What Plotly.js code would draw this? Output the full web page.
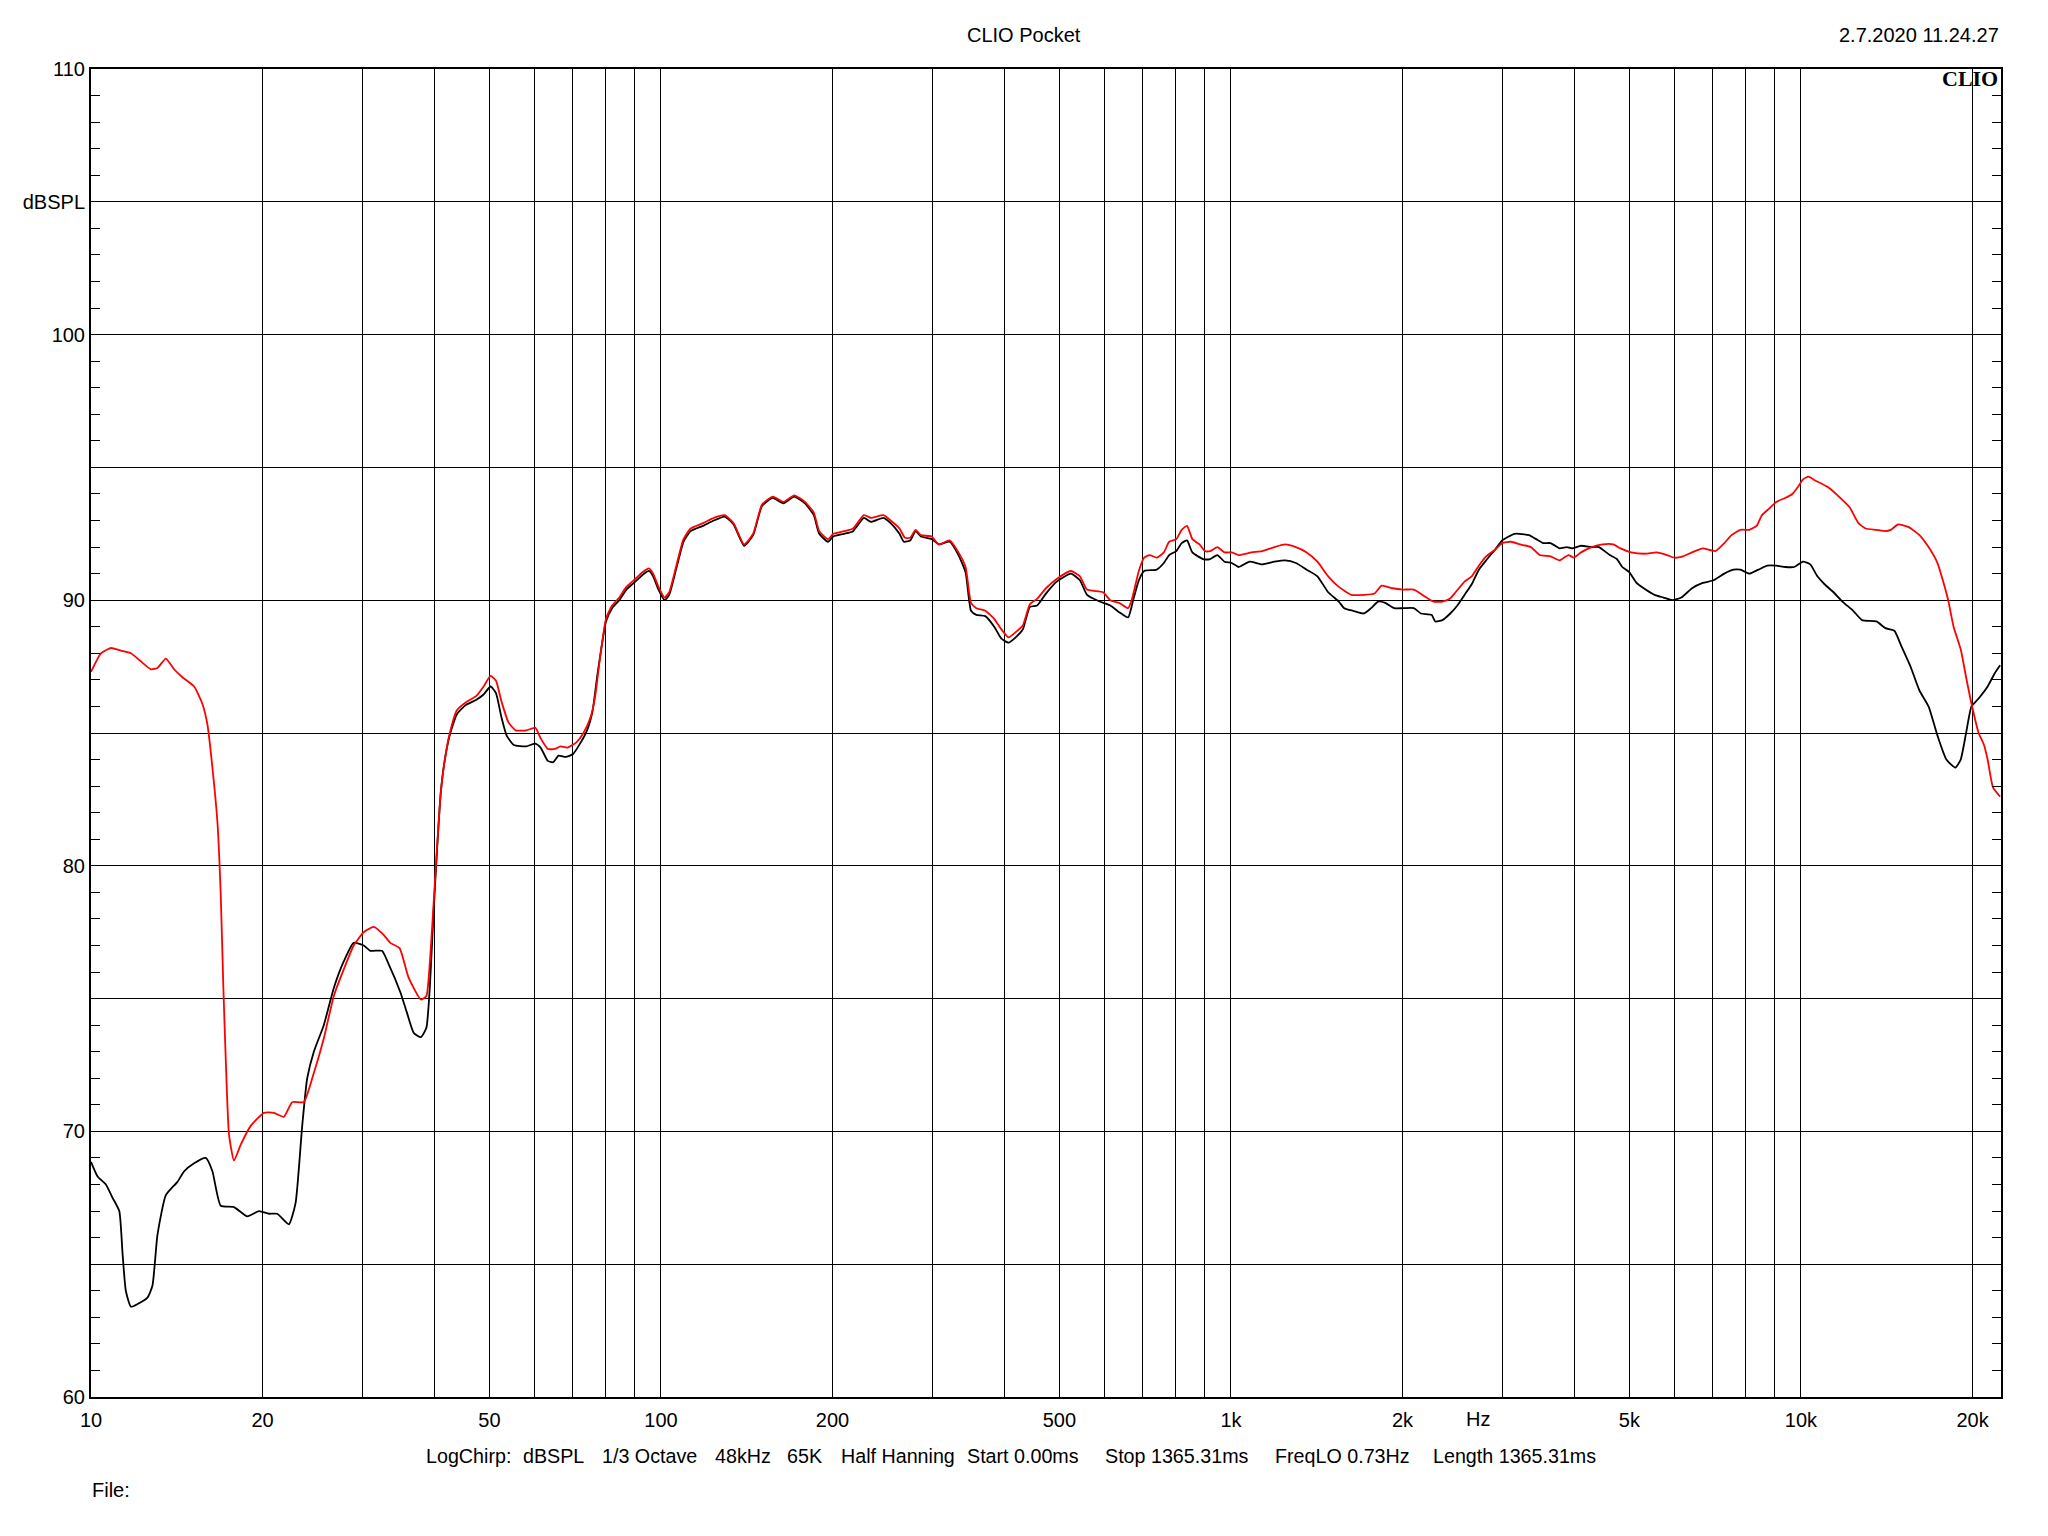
<!DOCTYPE html>
<html>
<head>
<meta charset="utf-8">
<script src="https://cdn.plot.ly/plotly-3.0.1.min.js"></script>
<style>
html,body{margin:0;padding:0;background:#fff;}
#chart{width:2048px;height:1536px;}
</style>
</head>
<body>
<div id="chart"></div>
<script>
// ---- data ----
const freqRed = [10,10.41,10.84,11.28,11.75,12.23,12.74,13.08,13.53,13.99,14.47,15.17,15.68,16.01,16.33,16.67,16.89,17.07,17.23,17.46,17.82,18.31,19.05,20.11,20.94,21.8,22.54,23.62,24.6,25.61,26.67,27.76,28.9,30.09,31.33,32.62,33.5,
34.78,36.06,37.93,38.76,39.32,39.89,40.47,41.06,41.66,42.57,43.82,45.43,47.44,48.83,50.25,51.35,52.48,54.01,55.59,58.05,60.18,61.5,63.31,65.16,66.59,68.54,71.06,73.11,75.26,76.68,78.03,80.09,82.08,84.49,86.96,90.15,92.78,95.21,96.87,99,101.45,103.37,106.4,109.52,112.73,118.56,123.8,129.3,134.1,139.9,145.1,150.4,157.1,164,171.3,178.9,185.4,189.5,196.4,200.6,209.6,217.3,227,233.6,245.7,252.9,262.1,267.9,273.7,279.7,285.8,298.5,307.3,320.9,332.6,
342.3,349.9,357.5,370.7,384.3,395.6,407.1,419.1,431.3,443.9,456.9,473.6,494.6,524,543.3,559.2,596.7,614.1,636.7,660,669.6,689.2,704.3,719.7,740.8,762.5,779.1,801.9,819.5,837.4,855.7,880.8,900.1,919.7,946.6,974.3,1003,1032,1086,1134,1192,1245,1300,1358,1418,1481,1546,1627,1711,1786,1838,1920,2005,2094,2185,2266,2349,2420,
2478,2569,2645,2722,2803,2906,2991,3101,3215,3358,3482,3637,3771,3910,3995,4113,4296,4487,4686,4824,5038,5338,5575,5821,5992,6213,6440,6727,7077,7338,7554,7832,8120,8359,8542,8794,9051,9384,9659,9870,10087,10309,10611,10844,11163,11657,12172,12617,12989,13566,14066,14377,14799,15458,16140,16745,17360,17740,18128,18527,19068,19488,19917,20501,20952,21258,21724,22362];
const splRed = [87.3,88.0,88.2,88.1,88.0,87.7,87.4,87.45,87.8,87.4,87.1,86.75,86.1,85.3,83.7,81.6,78.9,75.4,72.8,69.9,68.9,69.5,70.2,70.7,70.7,70.55,71.1,71.1,72.2,73.5,75.1,76.1,77.0,77.5,77.7,77.4,77.1,
76.9,75.8,74.96,75.1,76.4,78.5,80.7,82.7,83.85,84.96,85.85,86.15,86.4,86.75,87.15,86.97,86.2,85.4,85.1,85.1,85.2,84.8,84.4,84.4,84.5,84.45,84.65,85.0,85.6,86.4,87.7,89.3,89.8,90.1,90.5,90.8,91.05,91.2,91.0,90.5,90.1,90.3,91.3,92.3,92.7,92.9,93.1,93.2,92.9,92.1,92.5,93.6,93.9,93.7,93.95,93.7,93.3,92.6,92.3,92.5,92.6,92.7,93.2,93.1,93.2,93.0,92.7,92.35,92.35,92.65,92.45,92.4,92.1,92.25,91.8,
91.25,89.9,89.7,89.6,89.3,88.9,88.6,88.8,89.05,89.85,90.05,90.45,90.8,91.1,90.9,90.4,90.3,90.0,89.9,89.7,90.0,91.1,91.6,91.7,91.6,91.8,92.2,92.3,92.65,92.8,92.3,92.1,91.85,91.85,92.0,91.8,91.8,91.7,91.8,91.85,92.0,92.1,92.0,91.8,91.45,90.9,90.5,90.2,90.2,90.25,90.55,90.45,90.4,90.4,90.15,89.95,89.95,90.05,
90.3,90.7,90.9,91.3,91.65,91.9,92.15,92.2,92.1,92.0,91.7,91.65,91.5,91.7,91.6,91.8,92.0,92.1,92.1,91.95,91.8,91.75,91.8,91.7,91.6,91.65,91.8,91.95,91.85,92.15,92.45,92.65,92.65,92.8,93.2,93.45,93.7,93.85,94.0,94.25,94.55,94.65,94.5,94.4,94.25,93.9,93.5,92.9,92.7,92.65,92.6,92.65,92.85,92.75,92.45,92.0,91.4,90.75,90.0,89.0,88.15,87.1,86.1,85.0,84.55,84.0,82.95,82.6];

const freqBlack = [10,10.27,10.62,10.91,11.21,11.36,11.51,11.75,12.07,12.57,12.82,13.08,13.53,14.18,14.57,15.17,15.9,16.33,16.89,17.82,18.8,19.71,20.52,21.22,22.24,22.85,23.47,23.95,24.6,25.61,26.67,27.76,28.9,30.09,30.91,32.4,33.28,
34.88,35.8,36.85,37.93,38.76,39.32,39.89,40.47,41.06,41.66,42.57,43.82,45.43,47.44,48.83,50.25,51.35,52.48,53.62,55.19,58.05,60.18,61.5,63.31,64.69,66.12,68.05,70.04,72.11,74.18,75.81,77.47,80.09,82.08,84.49,86.96,90.15,92.78,95.21,96.87,99,101.45,103.37,106.4,109.52,112.73,118.56,123.8,129.3,134.1,139.9,145.1,150.4,157.1,164,171.3,178.9,185.4,189.5,196.4,200.6,209.6,217.3,227,233.6,245.7,252.9,262.1,
266.8,273.7,279.7,285.8,298.5,307.3,320.9,332.6,342.3,349.9,357.5,370.7,384.3,395.6,407.1,419.1,431.3,443.9,456.9,473.6,494.6,524,543.3,559.2,588.1,614.1,636.7,660,674.5,689.2,704.3,740.8,762.5,779.1,801.9,819.5,837.4,855.7,893.6,919.7,946.6,974.3,1003,1032,1078,1134,1192,1245,1300,1358,1418,1481,1546,1580,1638,1711,1761,1812,1865,1934,2005,2094,2154,2249,2282,2349,2425,2496,
2569,2645,2722,2803,2906,2991,3146,3334,3431,3532,3637,3771,3881,3967,4113,4296,4422,4619,4754,4859,5001,5148,5338,5534,5738,5949,6168,6440,6727,7025,7338,7608,7832,8120,8419,8730,9051,9384,9730,10087,10383,10688,11002,11408,11824,12350,12802,13566,14066,14587,15016,15570,16140,16745,17360,17998,18661,19068,19488,19917,20501,21258,21880,22362];
const splBlack = [68.85,68.3,68.0,67.5,67.0,65.4,64.0,63.4,63.5,63.75,64.2,66.1,67.6,68.1,68.5,68.8,69.0,68.5,67.2,67.15,66.8,67.0,66.9,66.9,66.5,67.3,70.2,72.0,73.0,74.0,75.4,76.4,77.1,77.0,76.8,76.8,76.3,
75.25,74.5,73.7,73.55,73.9,75.5,78.2,80.6,82.7,83.85,84.9,85.7,86.05,86.25,86.45,86.75,86.5,85.6,84.9,84.55,84.5,84.6,84.45,83.95,83.9,84.15,84.1,84.2,84.6,85.1,85.8,87.3,89.2,89.7,90.0,90.4,90.7,90.95,91.1,90.9,90.4,90.0,90.2,91.2,92.2,92.6,92.8,93.0,93.15,92.85,92.05,92.45,93.55,93.85,93.65,93.9,93.65,93.2,92.5,92.2,92.4,92.5,92.6,93.1,92.95,93.1,92.9,92.5,
92.2,92.25,92.6,92.4,92.3,92.1,92.2,91.7,91.05,89.6,89.45,89.4,89.0,88.55,88.4,88.6,88.9,89.75,89.8,90.25,90.7,91.0,90.75,90.2,89.95,89.8,89.55,89.35,90.05,90.75,91.1,91.15,91.4,91.7,91.85,92.15,92.25,91.8,91.55,91.55,91.7,91.45,91.4,91.25,91.45,91.35,91.45,91.5,91.4,91.15,90.9,90.3,89.95,89.7,89.6,89.5,89.7,89.95,89.9,89.7,89.7,89.7,89.5,89.45,89.2,89.25,89.5,89.8,
90.2,90.6,91.15,91.5,91.9,92.25,92.5,92.45,92.3,92.15,92.15,91.95,92.0,91.95,92.05,92.0,92.0,91.7,91.55,91.25,91.05,90.65,90.4,90.2,90.1,90.0,90.1,90.45,90.65,90.75,91.0,91.15,91.15,91.0,91.15,91.3,91.3,91.25,91.25,91.45,91.35,90.9,90.6,90.3,89.95,89.6,89.25,89.2,88.95,88.85,88.25,87.5,86.6,86.0,84.9,84.0,83.7,84.0,85.0,86.0,86.3,86.75,87.25,87.55];

const xGridFreqs = [10,20,30,40,50,60,70,80,90,100,200,300,400,500,600,700,800,900,1000,2000,3000,4000,5000,6000,7000,8000,9000,10000,20000];
const xLabelText = ['10','20','','','50','','','','','100','200','','','500','','','','','1k','2k','','','5k','','','','','10k','20k'];
const yGridVals = [60,65,70,75,80,85,90,95,100,105,110];
const yLabelText = ['60','','70','','80','','90','','100','dBSPL','110'];

const titleText = 'CLIO Pocket';
const dateText = '2.7.2020 11.24.27';
const logoText = 'CLIO';
const unitText = 'Hz';
const infoItems = ['LogChirp:','dBSPL','1/3 Octave','48kHz','65K','Half Hanning','Start 0.00ms','Stop 1365.31ms','FreqLO 0.73Hz','Length 1365.31ms'];
const fileText = 'File:';

// ---- layout-only positions ----
const infoPos = [0.1745,0.2250,0.2665,0.3255,0.3632,0.3914,0.4578,0.5300,0.6186,0.7015];
const FONT = '"Liberation Sans", Arial, sans-serif';

const traces = [
  {x: freqBlack, y: splBlack, type: 'scatter', mode: 'lines', line: {color: '#000000', width: 1.8, shape: 'spline', smoothing: 0.5}, hoverinfo: 'skip'},
  {x: freqRed, y: splRed, type: 'scatter', mode: 'lines', line: {color: '#ff0000', width: 1.8, shape: 'spline', smoothing: 0.5}, hoverinfo: 'skip'}
];

const annotations = [
  {text: titleText, xref: 'paper', yref: 'paper', x: 0.4883, y: 1.0256, xanchor: 'center', yanchor: 'middle', showarrow: false, font: {family: FONT, size: 20, color: '#000'}},
  {text: dateText, xref: 'paper', yref: 'paper', x: 1.0, y: 1.0256, xanchor: 'right', yanchor: 'middle', showarrow: false, font: {family: FONT, size: 20, color: '#000'}},
  {text: '<b>' + logoText + '</b>', xref: 'paper', yref: 'paper', x: 0.9995, y: 0.9925, xanchor: 'right', yanchor: 'middle', showarrow: false, font: {family: '"Liberation Serif", "DejaVu Serif", serif', size: 22, color: '#000'}},
  {text: unitText, xref: 'x', yref: 'paper', x: Math.log10(2708), y: -0.0169, xanchor: 'center', yanchor: 'middle', showarrow: false, font: {family: FONT, size: 20, color: '#000'}},
  {text: fileText, xref: 'paper', yref: 'paper', x: -0.0005, y: -0.0704, xanchor: 'left', yanchor: 'middle', showarrow: false, font: {family: FONT, size: 20, color: '#000'}}
];
infoItems.forEach((t, i) => {
  annotations.push({text: t, xref: 'paper', yref: 'paper', x: infoPos[i], y: -0.0448, xanchor: 'left', yanchor: 'middle', showarrow: false, font: {family: FONT, size: 19.7, color: '#000'}});
});

const layout = {
  width: 2048, height: 1536,
  margin: {l: 91, r: 47, t: 69, b: 139, pad: 0},
  paper_bgcolor: '#fff', plot_bgcolor: '#fff',
  showlegend: false,
  font: {family: FONT, size: 20, color: '#000'},
  xaxis: {
    type: 'log', range: [1, 4.351], fixedrange: true,
    tickmode: 'array', tickvals: xGridFreqs, ticktext: xLabelText,
    showgrid: true, gridcolor: '#000', gridwidth: 1,
    showline: true, linecolor: '#000', linewidth: 2, mirror: true,
    ticks: '', zeroline: false, ticklabelstandoff: 4,
    tickfont: {family: FONT, size: 20, color: '#000'}
  },
  yaxis: {
    range: [60, 110], fixedrange: true,
    tickmode: 'array', tickvals: yGridVals, ticktext: yLabelText,
    showgrid: true, gridcolor: '#000', gridwidth: 1,
    showline: true, linecolor: '#000', linewidth: 2, mirror: 'ticks',
    ticks: 'inside', ticklen: 9, tickcolor: '#000', tickwidth: 1,
    minor: {tickmode: 'linear', tick0: 60, dtick: 1, ticks: 'inside', ticklen: 9, tickcolor: '#000', tickwidth: 1, showgrid: false},
    zeroline: false,
    tickfont: {family: FONT, size: 20, color: '#000'}
  },
  annotations: annotations
};

Plotly.newPlot('chart', traces, layout, {staticPlot: true, displayModeBar: false});
</script>
</body>
</html>
